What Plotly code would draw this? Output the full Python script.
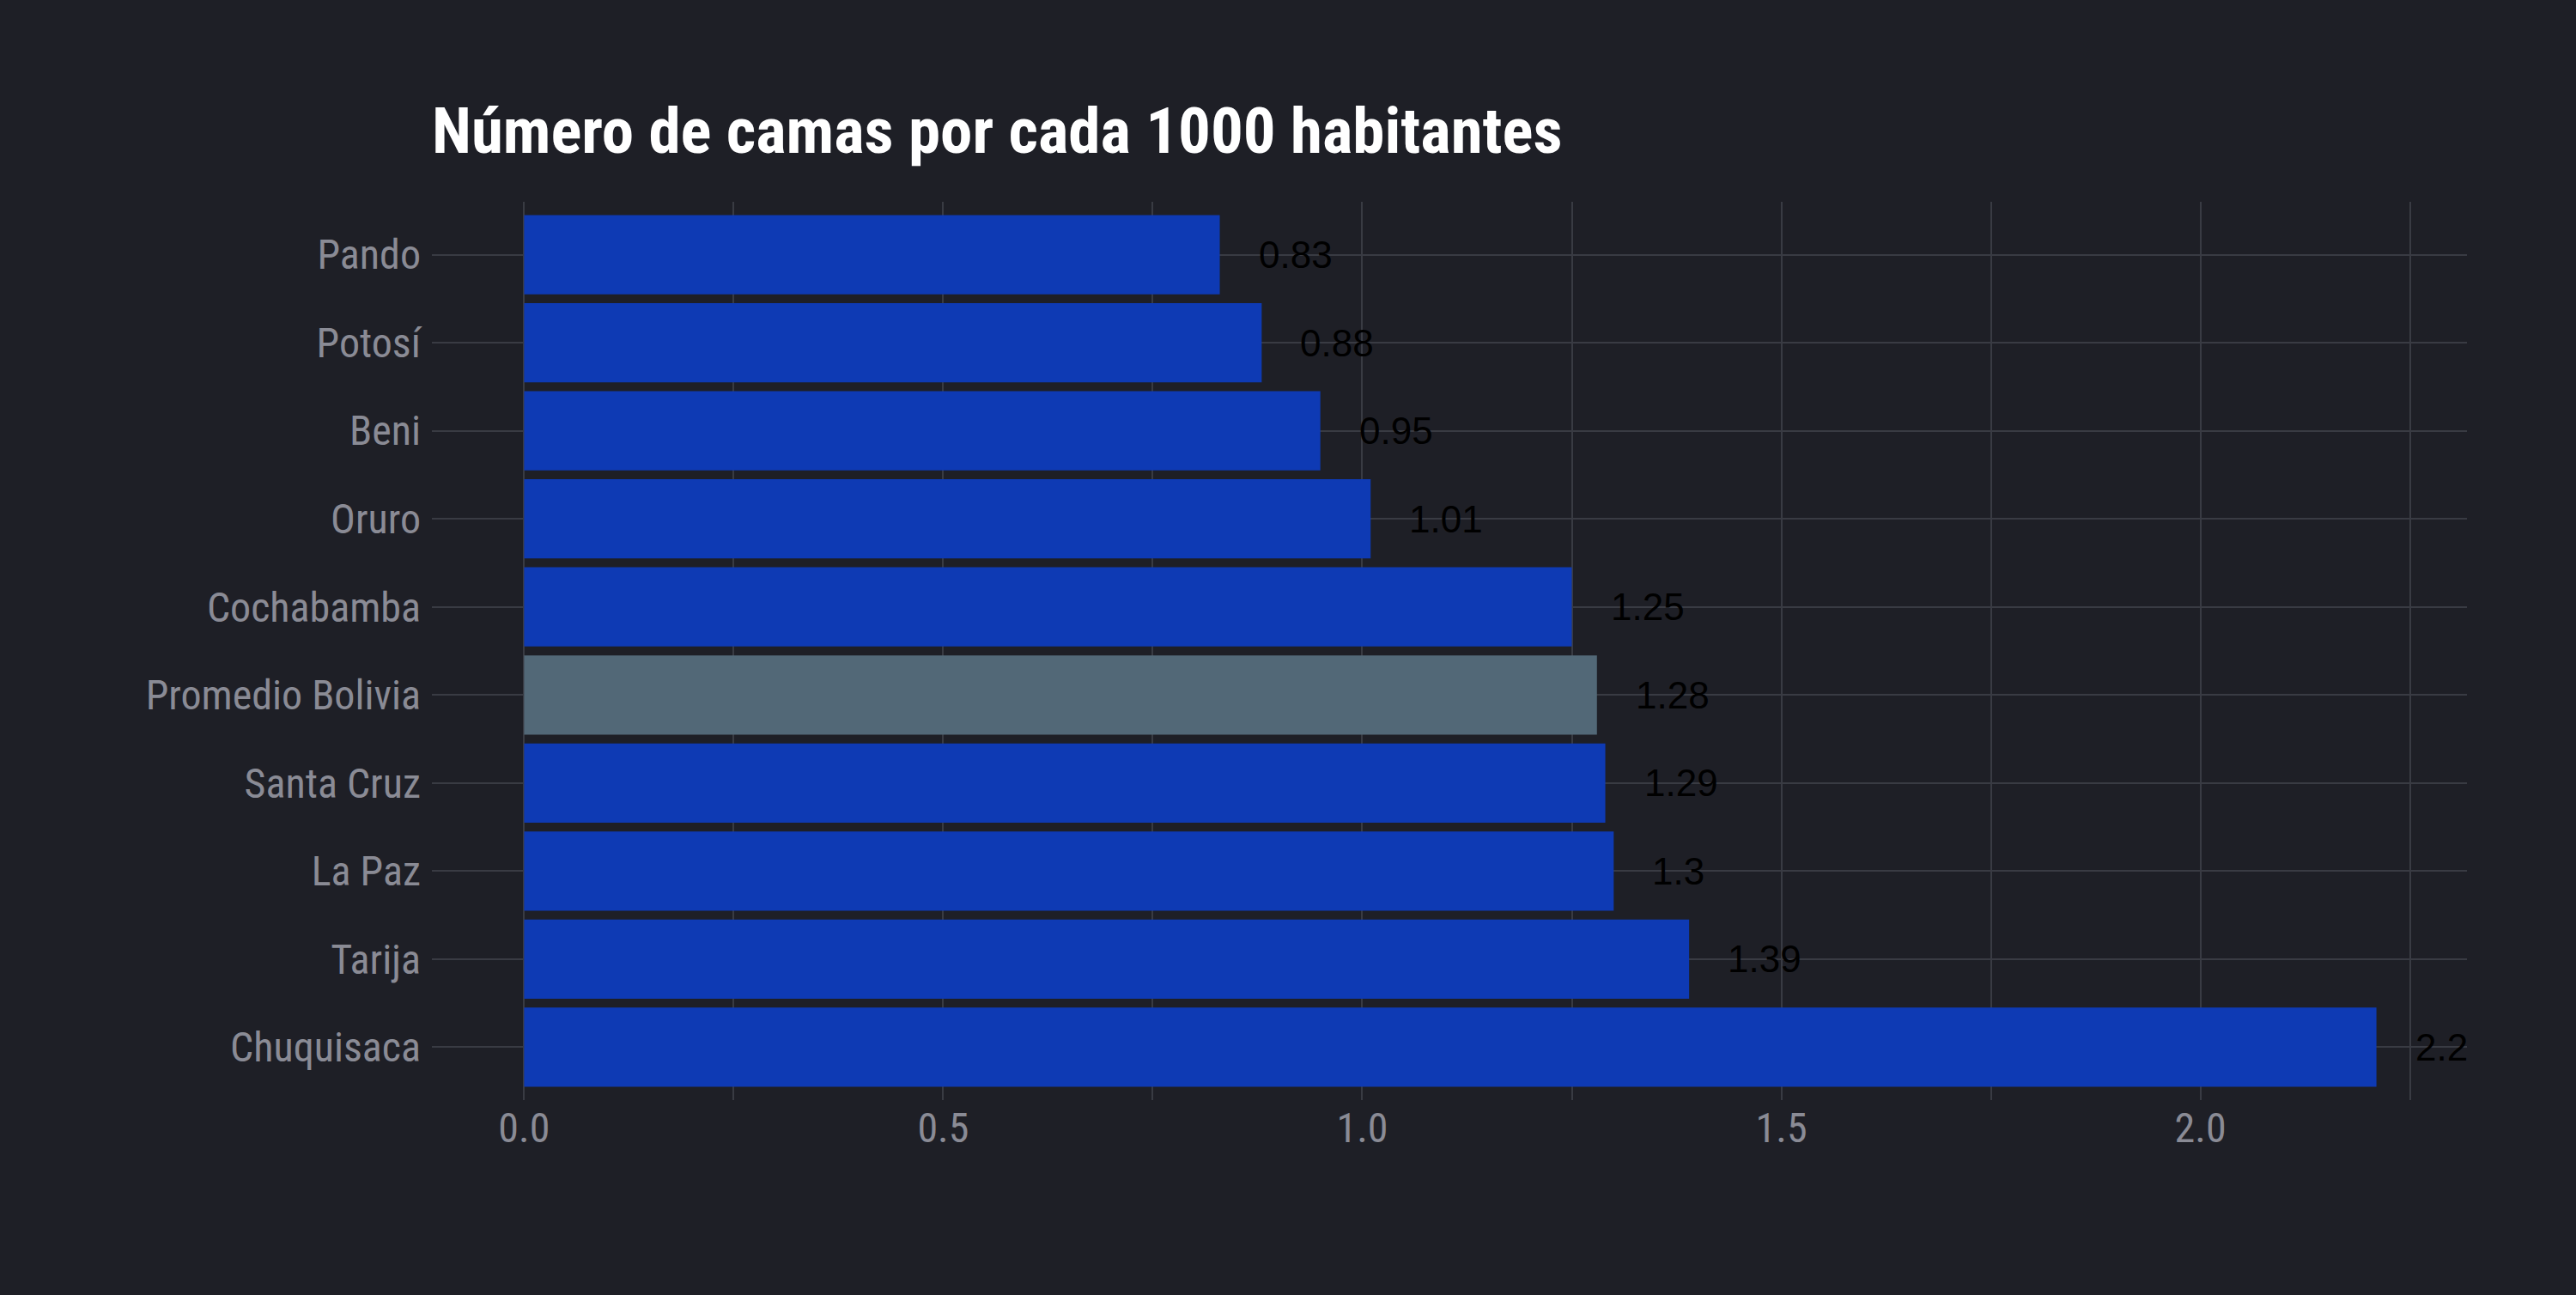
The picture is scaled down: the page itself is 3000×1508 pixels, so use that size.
import plotly.graph_objects as go

categories = ["Pando", "Potosí", "Beni", "Oruro", "Cochabamba", "Promedio Bolivia",
              "Santa Cruz", "La Paz", "Tarija", "Chuquisaca"]
values = [0.83, 0.88, 0.95, 1.01, 1.25, 1.28, 1.29, 1.30, 1.39, 2.21]
value_labels = ["0.83", "0.88", "0.95", "1.01", "1.25", "1.28", "1.29", "1.3", "1.39", "2.2"]
highlight = "Promedio Bolivia"
x_ticks = [0.0, 0.5, 1.0, 1.5, 2.0]
x_tick_labels = ["0.0", "0.5", "1.0", "1.5", "2.0"]
title_text = "Número de camas por cada 1000 habitantes"

BG = "#1e1f26"
BLUE = "#0e3ab4"
GRAY = "#526877"
GRID = "#393b43"
TICK = "#8a8b95"
COND = "Roboto Condensed, Liberation Sans Narrow, DejaVu Sans Condensed, Roboto"

colors = [GRAY if c == highlight else BLUE for c in categories]

fig = go.Figure()
fig.add_trace(go.Bar(
    y=categories, x=values, orientation="h", width=0.9,
    marker=dict(color=colors, line=dict(width=0)),
    hoverinfo="x+y", showlegend=False,
))

for c, v, t in zip(categories, values, value_labels):
    fig.add_annotation(
        x=v, y=c, text=t, showarrow=False, xanchor="left", yanchor="middle",
        xshift=43, font=dict(family="Liberation Sans, Arial", size=44, color="#000000"),
    )

fig.update_layout(
    width=3000, height=1508,
    paper_bgcolor=BG, plot_bgcolor=BG,
    margin=dict(l=503, r=127, t=235, b=227),
    title=dict(
        text=title_text, xref="container", yref="container",
        x=503 / 3000, xanchor="left", y=1 - 152 / 1508, yanchor="middle",
        font=dict(family=COND, size=75, color="#ffffff", weight="bold"),
    ),
    bargap=0.1,
)
fig.update_xaxes(
    range=[-0.11, 2.318], tickvals=x_ticks, ticktext=x_tick_labels,
    showgrid=True, gridcolor=GRID, gridwidth=2, zeroline=False, showline=False,
    minor=dict(dtick=0.25, tick0=0, showgrid=True, gridcolor=GRID, gridwidth=1.5),
    tickfont=dict(family=COND, size=48, color=TICK), ticks="", ticklabelstandoff=0,
)
fig.update_yaxes(
    categoryorder="array", categoryarray=categories,
    range=[len(categories) - 0.4, -0.6],
    showgrid=True, gridcolor=GRID, gridwidth=2, zeroline=False, showline=False,
    tickfont=dict(family=COND, size=48, color=TICK), ticks="", ticklabelstandoff=12,
)

fig.write_html("out.html", config={"displayModeBar": False},
               post_script="document.body.style.margin='0';document.body.style.background='%s';" % BG)
